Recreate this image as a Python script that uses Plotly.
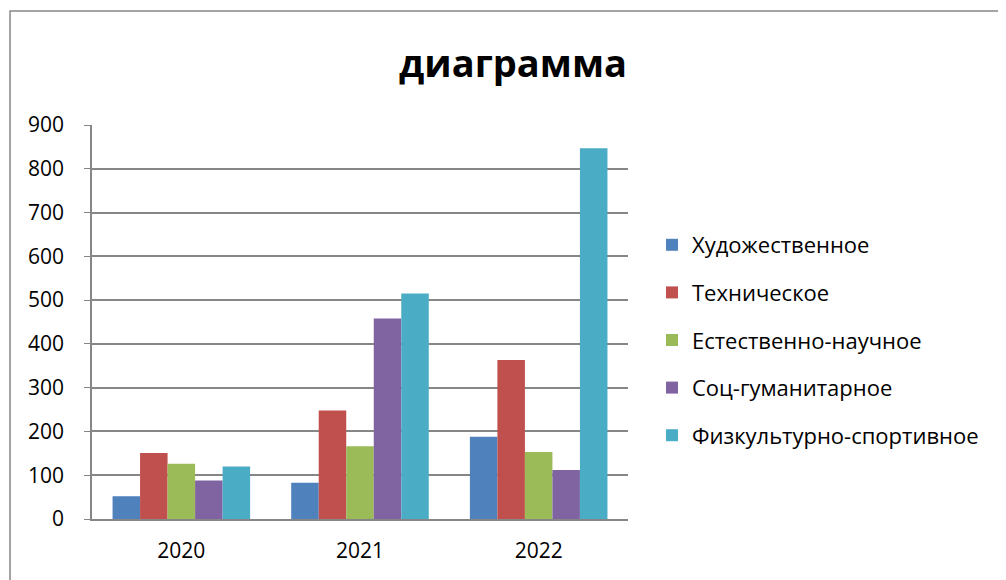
import plotly.graph_objects as go

years = ["2020", "2021", "2022"]
series_names = ["Художественное", "Техническое", "Естественно-научное",
                "Соц-гуманитарное", "Физкультурно-спортивное"]
hud = [52, 83, 188]
tech = [151, 248, 363]
estest = [126, 166, 153]
soc = [88, 458, 112]
fiz = [120, 515, 847]
colors = ["#4F81BD", "#C0504D", "#9BBB59", "#8064A2", "#4BACC6"]
y_ticks = [0, 100, 200, 300, 400, 500, 600, 700, 800, 900]

values = [hud, tech, estest, soc, fiz]
FONT = "Open Sans"
OFF = 8  # page offset of the figure in the browser

fig = go.Figure()
for i, (name, vals) in enumerate(zip(series_names, values)):
    fig.add_trace(go.Bar(x=years, y=vals, name=name, marker_color=colors[i],
                         marker_line_width=0, legendgroup=f"g{i}"))

W, H = 1006, 580
# target screen positions, converted to figure coordinates
L, R, T, B = 92 - OFF, 628 - OFF, 125 - OFF, 519 - OFF
pw, ph = R - L, B - T

def px(x):
    return (x - OFF - L) / pw

def py(y):
    return (B - (y - OFF)) / ph

fig.update_layout(
    width=W, height=H,
    margin=dict(l=L, r=W - R, t=T, b=H - B, pad=0),
    paper_bgcolor="white", plot_bgcolor="white",
    barmode="group", bargap=0.23, bargroupgap=0,
    title=dict(text="<b>диаграмма</b>", x=px(513), xref="paper", xanchor="center",
               y=1 - (64 - OFF) / H, yanchor="middle",
               font=dict(family=FONT, size=38, color="black")),
    font=dict(family=FONT, size=21, color="black"),
    legend=dict(x=px(652), xanchor="left", y=py(224), yanchor="top",
                font=dict(family=FONT, size=22, color="black"),
                tracegroupgap=16, itemwidth=30, bgcolor="rgba(0,0,0,0)"),
    showlegend=True,
    xaxis=dict(showline=True, linecolor="#868686", linewidth=2, ticks="",
               tickfont=dict(family=FONT, size=21), showgrid=False,
               ticklabelstandoff=12),
    yaxis=dict(range=[0, 900], tickvals=y_ticks, showgrid=True, gridcolor="#868686",
               gridwidth=1.5, showline=True, linecolor="#868686", linewidth=1.5,
               ticks="outside", ticklen=6, tickcolor="#868686",
               tickfont=dict(family=FONT, size=21), zeroline=False, ticklabelstandoff=16),
    shapes=[dict(type="rect", xref="paper", yref="paper",
                 x0=px(10), x1=px(1020), y0=py(600), y1=py(11),
                 line=dict(color="#868686", width=1.5), fillcolor="rgba(0,0,0,0)",
                 layer="below")],
)

fig.write_html("out.html")
